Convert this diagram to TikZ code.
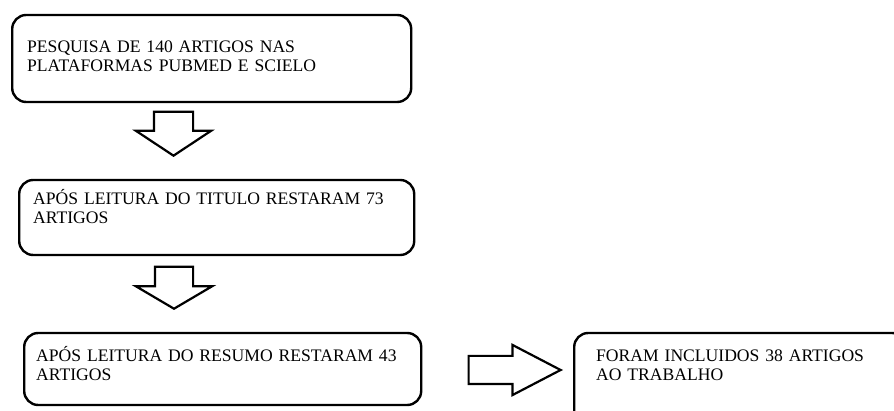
\documentclass[tikz,border=0pt]{standalone}
\usepackage{fontspec}
\setmainfont{Liberation Serif}
\usetikzlibrary{shapes.arrows}

\begin{document}
\begin{tikzpicture}[x=1pt,y=-1pt]
        \tikzstyle{every node}=[font=\fontsize{17.6}{19}\selectfont]
        \tikzstyle{caixa}=[draw,line width=2.4pt,rounded corners=14pt,anchor=base west,align=left,inner ysep=0pt]
        \tikzstyle{seta}=[draw,line width=2.2pt,single arrow,inner xsep=0pt,single arrow head indent=0pt,anchor=tip]
        \clip (0,0) rectangle (894,411);
        \node[caixa,inner xsep=15pt,text width=369pt,text height=38pt,text depth=49pt] (pesquisa) at (11,53) {PESQUISA DE 140 ARTIGOS NAS\\PLATAFORMAS PUBMED E SCIELO};
        \node[caixa,inner xsep=14pt,text width=367pt,text height=25pt,text depth=50pt] (titulo) at (18,205) {APÓS LEITURA DO TITULO RESTARAM 73\\ARTIGOS};
        \node[caixa,inner xsep=12pt,text width=373pt,text height=29pt,text depth=43pt] (resumo) at (23,362) {APÓS LEITURA DO RESUMO RESTARAM 43\\ARTIGOS};
        \node[caixa,inner xsep=22pt,text width=288pt,text height=29pt,text depth=63pt] (incluidos) at (573,362) {FORAM INCLUIDOS 38 ARTIGOS\\AO TRABALHO};
        \node[seta,rotate=-90,inner ysep=18.5pt,minimum height=44pt,minimum width=73pt,single arrow head extend=18pt,single arrow tip angle=113] (setaA) at (173.5,157) {};
        \node[seta,rotate=-90,inner ysep=18pt,minimum height=42pt,minimum width=74pt,single arrow head extend=19pt,single arrow tip angle=119] (setaB) at (174,310) {};
        \node[seta,inner ysep=13pt,minimum height=92pt,minimum width=48pt,single arrow head extend=11pt,single arrow tip angle=55] (setaC) at (563,370) {};
    \end{tikzpicture}
\end{document}
